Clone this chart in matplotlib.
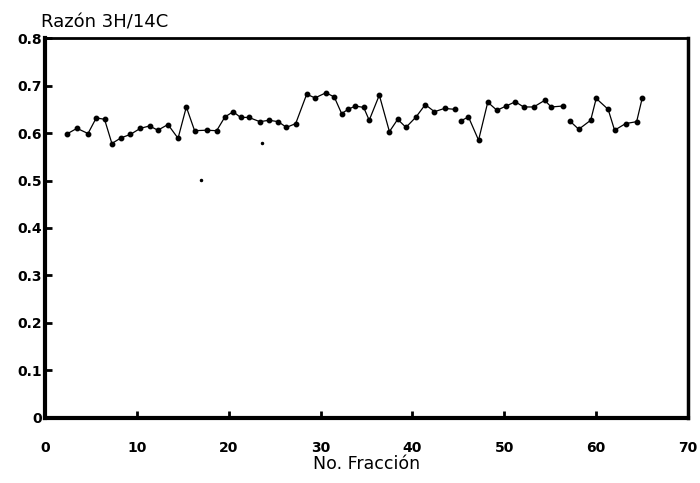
import matplotlib.pyplot as plt

# valores (No. fraccion, razon 3H/14C)
frac_a = [2.4, 3.5, 4.7, 5.6, 6.5, 7.3, 8.3, 9.3, 10.4, 11.4, 12.3, 13.4, 14.5, 15.4,
          16.3, 17.6, 18.7, 19.6, 20.5, 21.3, 22.2, 23.4, 24.4, 25.4, 26.3, 27.3,
          28.5, 29.4, 30.6, 31.5, 32.3, 33.0, 33.8, 34.7, 35.3, 36.4, 37.5, 38.4,
          39.3, 40.4, 41.4, 42.4, 43.5, 44.6]
razon_a = [0.598, 0.610, 0.599, 0.632, 0.629, 0.578, 0.590, 0.597, 0.610, 0.615,
           0.606, 0.618, 0.589, 0.655, 0.605, 0.606, 0.605, 0.634, 0.645, 0.633,
           0.633, 0.624, 0.627, 0.624, 0.612, 0.620, 0.682, 0.674, 0.685, 0.676,
           0.641, 0.650, 0.657, 0.654, 0.627, 0.680, 0.603, 0.629, 0.612, 0.634,
           0.660, 0.645, 0.652, 0.650]
frac_b = [45.3, 46.1, 47.2, 48.2, 49.2, 50.2, 51.2, 52.1, 53.2, 54.4, 55.1, 56.4]
razon_b = [0.626, 0.634, 0.585, 0.665, 0.648, 0.657, 0.666, 0.655, 0.655, 0.669,
           0.655, 0.657]
frac_c = [57.1, 58.1, 59.4, 60.0, 61.3, 62.0, 63.2, 64.4, 65.0]
razon_c = [0.626, 0.608, 0.627, 0.673, 0.650, 0.606, 0.620, 0.624, 0.673]
# puntos sueltos
frac_s = [17.0, 23.6]
razon_s = [0.501, 0.580]

xticks = [0, 10, 20, 30, 40, 50, 60, 70]
yticks = [0, 0.1, 0.2, 0.3, 0.4, 0.5, 0.6, 0.7, 0.8]
ylabels = ['0', '0.1', '0.2', '0.3', '0.4', '0.5', '0.6', '0.7', '0.8']

fig = plt.figure(figsize=(7, 4.83), dpi=100)
ax = fig.add_axes([0.064, 0.135, 0.919, 0.786])

for fx, ry in [(frac_a, razon_a), (frac_b, razon_b), (frac_c, razon_c)]:
    ax.plot(fx, ry, 'k-', lw=0.9, marker='o', ms=3.2)
ax.plot(frac_s, razon_s, 'k.', ms=3)

ax.set_xlim(0, 70)
ax.set_ylim(0, 0.8)
ax.set_xticks(xticks)
ax.set_yticks(yticks)
ax.set_yticklabels(ylabels)
ax.tick_params(direction='in', length=5, width=2, labelsize=10)
ax.tick_params(axis='x', pad=17)
ax.tick_params(axis='y', pad=2)
for t in ax.get_xticklabels() + ax.get_yticklabels():
    t.set_fontweight('bold')
ax.spines['left'].set_linewidth(3)
ax.spines['bottom'].set_linewidth(3)
ax.spines['top'].set_linewidth(2)
ax.spines['right'].set_linewidth(2.5)

ax.set_xlabel('No. Fracción', fontsize=12.5, labelpad=0)
fig.text(0.058, 0.935, 'Razón 3H/14C', fontsize=13, ha='left', va='bottom')

plt.savefig('out.png', dpi=100)
